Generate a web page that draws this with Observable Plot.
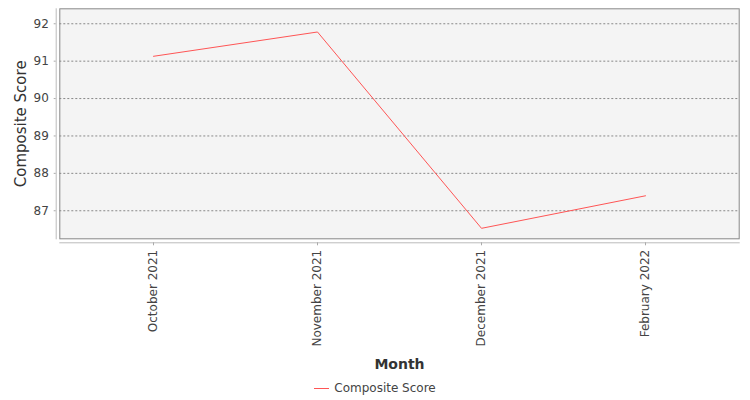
<!DOCTYPE html>
<html>
<head>
<meta charset="utf-8">
<script src="https://cdn.jsdelivr.net/npm/d3@7"></script>
<script src="https://cdn.jsdelivr.net/npm/@observablehq/plot@0.6"></script>
<style>
  html, body { margin: 0; padding: 0; background: #ffffff; }
  #chart { width: 750px; }
  #legend { width: 750px; height: 25px; display: flex; justify-content: center; align-items: center;
            font-family: "DejaVu Sans", sans-serif; font-size: 12px; color: #444; }
  #legend .sw { display: inline-block; width: 15px; height: 1px; background: #ff5555; margin-right: 5px; margin-top: 1px; }
</style>
</head>
<body>
<div id="chart"></div>
<div id="legend"><span class="sw"></span><span>Composite Score</span></div>
<script>
const months = ["October 2021", "November 2021", "December 2021", "February 2022"];
const scores = [91.13, 91.78, 86.53, 87.40];
const yTicks = [87, 88, 89, 90, 91, 92];
const seriesName = "Composite Score";
const xTitle = "Month";
const yTitle = "Composite Score";

const rows = months.map((m, i) => ({month: m, score: scores[i]}));

const chart = Plot.plot({
  width: 750,
  height: 375,
  marginLeft: 59.3,
  marginRight: 11.3,
  marginTop: 8.3,
  marginBottom: 136.7,
  style: {fontFamily: "DejaVu Sans, sans-serif", fontSize: "12px", color: "#444", background: "#ffffff", overflow: "visible"},
  x: {type: "point", domain: months, padding: 0.57},
  y: {domain: [86.25, 92.4]},
  marks: [
    Plot.frame({fill: "#f4f4f4", stroke: null}),
    Plot.ruleY(yTicks, {stroke: "#888", strokeDasharray: "2,2", strokeWidth: 1}),
    Plot.frame({stroke: "#888", fill: null}),
    Plot.frame({anchor: "left", dx: -3.6, stroke: "#bbb"}),
    Plot.frame({anchor: "bottom", dy: 4, stroke: "#bbb"}),
    Plot.axisY(yTicks, {tickSize: 2, dx: -3.6, tickPadding: 5.4, label: null, stroke: "#aaa", fill: "#444"}),
    Plot.axisX({tickSize: 3, dy: 4, tickRotate: -90, tickPadding: 4, label: null, stroke: "#aaa", fill: "#444"}),
    Plot.line(rows, {x: "month", y: "score", stroke: "#ff5555", strokeWidth: 1}),
    Plot.text([yTitle], {text: d => d, frameAnchor: "left", dx: -38.8, rotate: -90, textAnchor: "middle", lineAnchor: "middle", fontSize: 15, fill: "#333"}),
    Plot.text([xTitle], {text: d => d, frameAnchor: "bottom", dy: 125.7, textAnchor: "middle", lineAnchor: "middle", fontSize: 14, fontWeight: "bold", fill: "#333"})
  ]
});
document.getElementById("chart").appendChild(chart);
</script>
</body>
</html>
